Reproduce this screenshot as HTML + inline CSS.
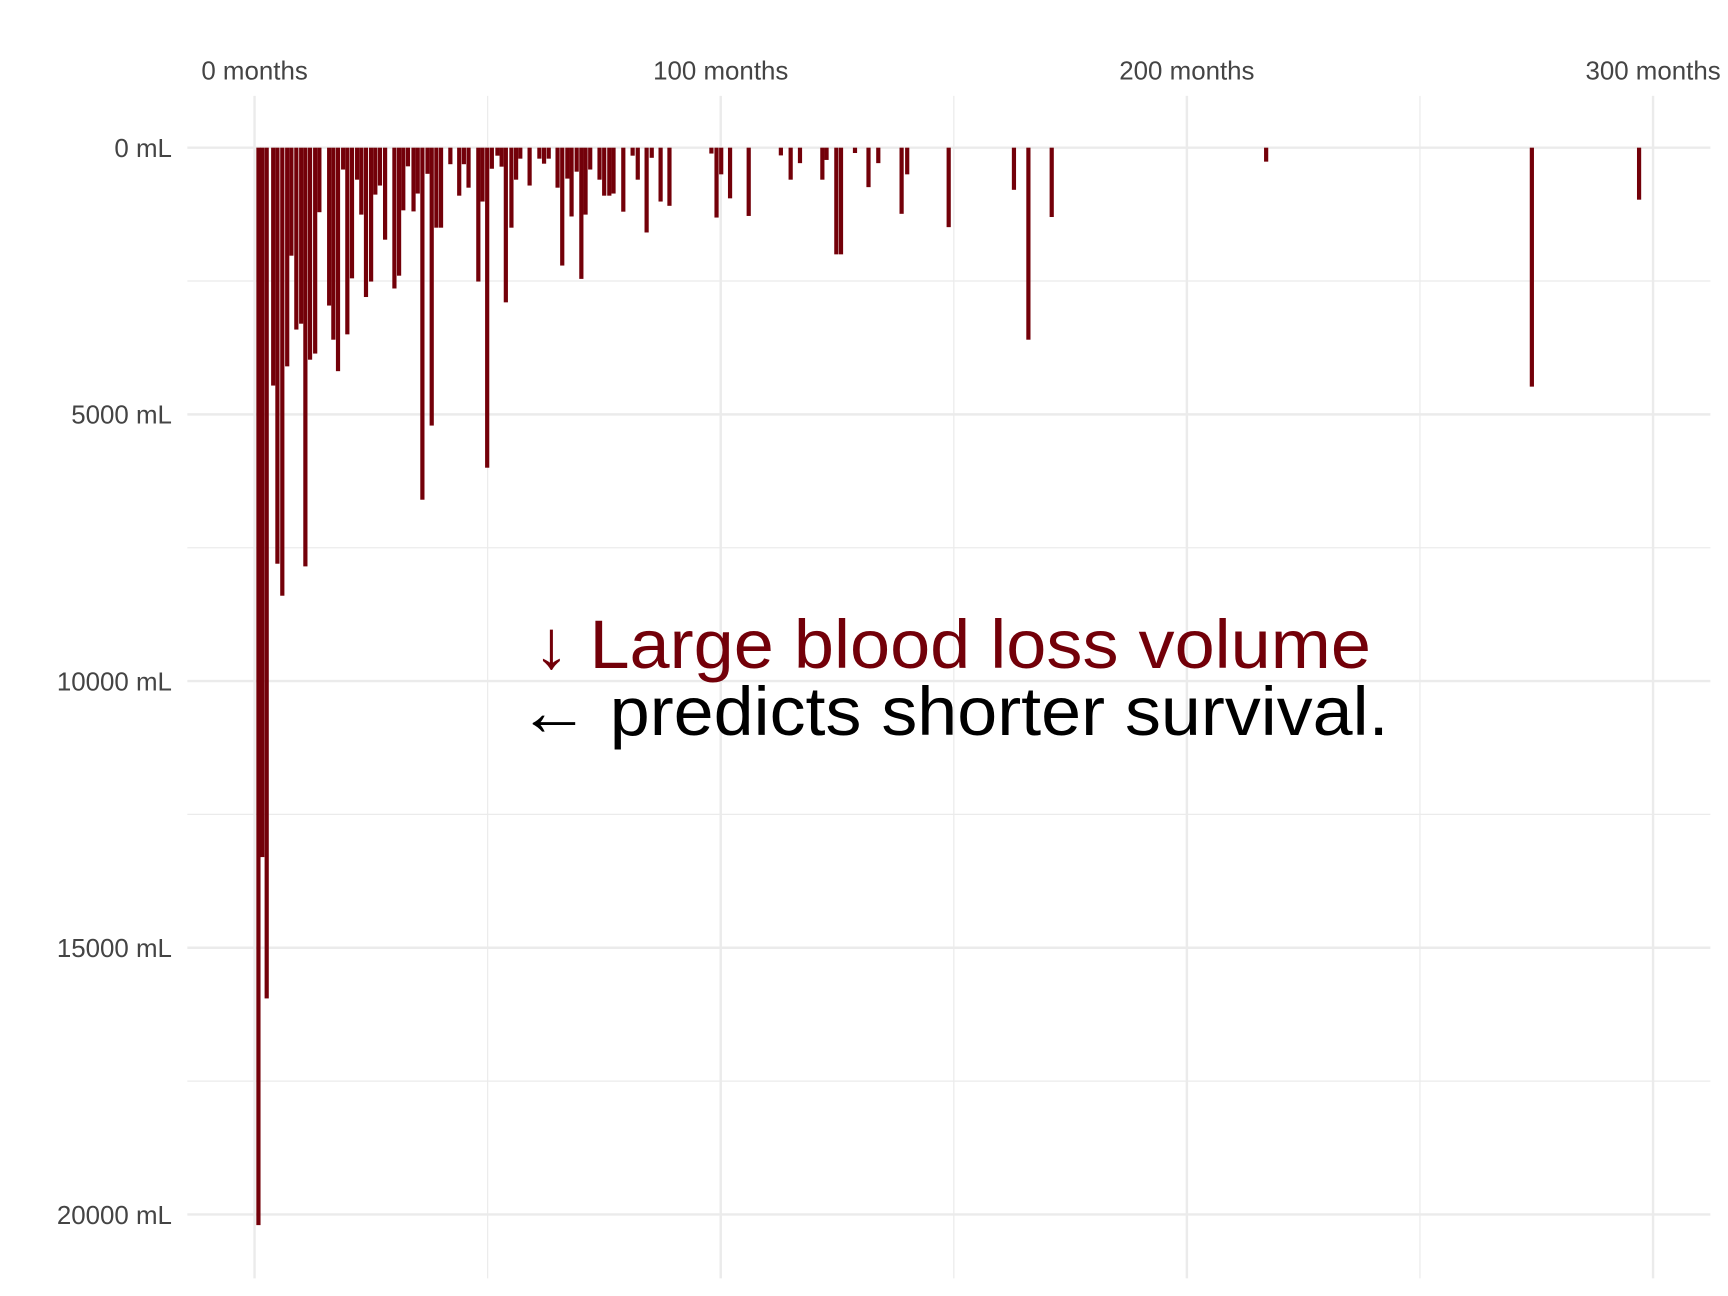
<!DOCTYPE html>
<html><head><meta charset="utf-8"><style>
html,body{margin:0;padding:0;background:#fff;}
svg{display:block;font-family:"Liberation Sans",Arial,sans-serif;}
</style></head><body>
<svg id="chart" width="1728" height="1296" viewBox="0 0 1568 1176" xmlns="http://www.w3.org/2000/svg">
<g id="grid"></g>
<g id="bars"></g>
<g id="xlabels"></g>
<g id="ylabels"></g>
<text x="484" y="606" font-size="62" fill="#730009" textLength="760" lengthAdjust="spacingAndGlyphs">↓ Large blood loss volume</text>
<text x="470" y="667" font-size="62" fill="#000" textLength="790" lengthAdjust="spacingAndGlyphs">← predicts shorter survival.</text>
</svg>
<script>
const months = [0.83,1.65,2.6,4.0,4.9,5.95,7.0,7.9,8.96,10.0,10.9,11.9,13.0,13.9,16.0,16.9,17.9,19.0,19.9,20.9,22.0,22.9,23.9,25.0,25.9,26.9,28.0,30.0,31.0,31.9,32.9,34.1,35.0,36.0,37.1,38.0,39.0,40.0,42.0,43.9,44.9,45.9,48.0,48.9,49.9,50.9,52.1,53.0,53.9,55.1,56.1,57.0,59.0,61.1,62.1,63.1,65.0,66.0,67.1,68.0,69.1,70.1,71.0,72.0,74.0,75.0,76.1,77.0,79.1,81.1,82.2,84.1,85.2,87.1,89.0,98.0,99.1,100.1,102.0,106.0,112.9,115.0,117.0,121.8,122.7,124.8,125.8,128.8,131.7,133.8,138.8,140.0,148.9,162.9,166.0,171.0,217.0,274.0,297.0];
const bloodLoss = [20200,13300,15950,4460,7800,8400,4100,2025,3410,3300,7850,3975,3860,1210,2960,3600,4190,410,3500,2450,600,1255,2800,2510,880,710,1725,2640,2400,1175,350,1195,860,6600,490,5210,1500,1500,310,900,310,750,2510,1010,6000,395,150,356,2900,1500,600,206,710,206,300,206,750,2210,580,1290,450,2460,1255,410,600,900,900,860,1200,150,600,1590,190,1010,1090,110,1310,500,950,1280,145,600,290,600,230,2000,2000,100,740,290,1240,500,1490,790,3600,1300,262,4480,975];
const xTicks = [0,100,200,300];
const xMinor = [50,150,250];
const yTicks = [0,5000,10000,15000,20000];
const yMinor = [2500,7500,12500,17500];
const xTickLabels = ["0 months","100 months","200 months","300 months"];
const yTickLabels = ["0 mL","5000 mL","10000 mL","15000 mL","20000 mL"];

const NS="http://www.w3.org/2000/svg";
function xs(m){return 231+4.23*m;}
function ys(v){return 134+0.0484*v;}
const L=170,R=1552,T=87,B=1160;
const grid=document.getElementById('grid');
function line(x1,y1,x2,y2,w,name){
  const l=document.createElementNS(NS,'line');
  l.setAttribute('x1',x1);l.setAttribute('y1',y1);l.setAttribute('x2',x2);l.setAttribute('y2',y2);
  l.setAttribute('stroke','#ebebeb');l.setAttribute('stroke-width',w);
  
  
  grid.appendChild(l);
}
yMinor.forEach(v=>line(L,ys(v),R,ys(v),1.1,'minor-gridline-y'));
xMinor.forEach(m=>line(xs(m),T,xs(m),B,1.1,'minor-gridline-x'));
yTicks.forEach(v=>line(L,ys(v),R,ys(v),2.2,'major-gridline-y'));
xTicks.forEach(m=>line(xs(m),T,xs(m),B,2.2,'major-gridline-x'));

const bars=document.getElementById('bars');
const bw=4.23*0.9;
months.forEach((m,i)=>{
  const r=document.createElementNS(NS,'rect');
  r.setAttribute('x',xs(m)-bw/2);
  r.setAttribute('y',ys(0));
  r.setAttribute('width',bw);
  r.setAttribute('height',ys(bloodLoss[i])-ys(0));
  r.setAttribute('fill','#730009');
  
  
  bars.appendChild(r);
});

const xl=document.getElementById('xlabels');
xTicks.forEach((m,i)=>{
  const t=document.createElementNS(NS,'text');
  t.setAttribute('x',xs(m));t.setAttribute('y',72);
  t.setAttribute('text-anchor','middle');t.setAttribute('font-size','23.5');t.setAttribute('fill','#444');
  t.textContent=xTickLabels[i];
  
  
  xl.appendChild(t);
});
const yl=document.getElementById('ylabels');
yTicks.forEach((v,i)=>{
  const t=document.createElementNS(NS,'text');
  t.setAttribute('x',156);t.setAttribute('y',ys(v)+8.5);
  t.setAttribute('text-anchor','end');t.setAttribute('font-size','23.5');t.setAttribute('fill','#444');
  t.textContent=yTickLabels[i];
  
  
  yl.appendChild(t);
});
</script>
</body></html>
